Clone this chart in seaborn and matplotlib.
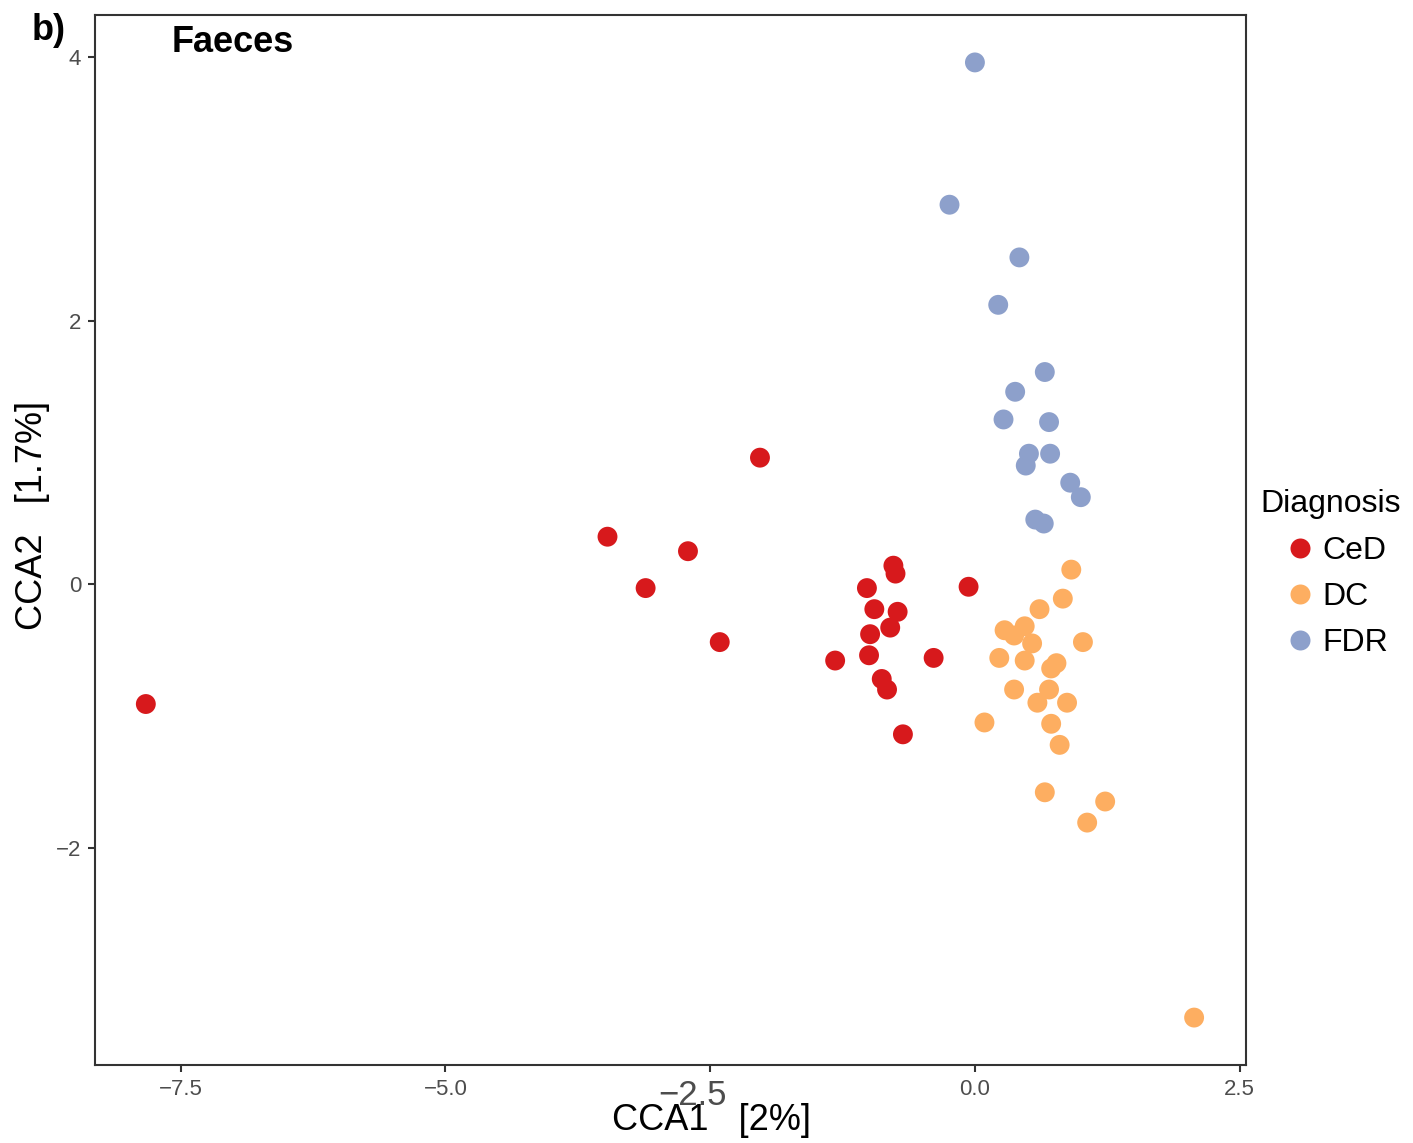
import numpy as np
import pandas as pd
import matplotlib
matplotlib.use("Agg")
import matplotlib.pyplot as plt
import matplotlib.transforms as mtransforms
from matplotlib.lines import Line2D
import seaborn as sns

# ---- data ----
ced_x = [-7.83, -3.47, -3.11, -2.71, -2.41, -2.03, -1.32, -0.77, -0.75, -1.02,
         -0.95, -0.73, -0.80, -0.99, -1.00, -0.39, -0.06, -0.88, -0.83, -0.68]
ced_y = [-0.91, 0.36, -0.03, 0.25, -0.44, 0.96, -0.58, 0.14, 0.08, -0.03,
         -0.19, -0.21, -0.33, -0.38, -0.54, -0.56, -0.02, -0.72, -0.80, -1.14]

dc_x = [0.91, 0.83, 0.61, 0.28, 0.47, 0.37, 0.54, 1.02, 0.23, 0.47, 0.77, 0.72,
        0.37, 0.70, 0.59, 0.87, 0.09, 0.72, 0.80, 0.66, 1.23, 1.06, 2.07]
dc_y = [0.11, -0.11, -0.19, -0.35, -0.32, -0.39, -0.45, -0.44, -0.56, -0.58, -0.60, -0.64,
        -0.80, -0.80, -0.90, -0.90, -1.05, -1.06, -1.22, -1.58, -1.65, -1.81, -3.29]

fdr_x = [0.00, -0.24, 0.42, 0.22, 0.66, 0.38, 0.27, 0.70, 0.51, 0.48, 0.71, 0.90,
         1.00, 0.57, 0.65]
fdr_y = [3.96, 2.88, 2.48, 2.12, 1.61, 1.46, 1.25, 1.23, 0.99, 0.90, 0.99, 0.77,
         0.66, 0.49, 0.46]

groups = ["CeD", "DC", "FDR"]
colors = {"CeD": "#D7191C", "DC": "#FDAE61", "FDR": "#8DA0CB"}

x_ticks = [-7.5, -5.0, -2.5, 0.0, 2.5]
x_tick_labels = ["\u22127.5", "\u22125.0", "\u22122.5", "0.0", "2.5"]
y_ticks = [-2, 0, 2, 4]
y_tick_labels = ["\u22122", "0", "2", "4"]

df = pd.DataFrame({
    "CCA1": ced_x + dc_x + fdr_x,
    "CCA2": ced_y + dc_y + fdr_y,
    "Diagnosis": ["CeD"] * len(ced_x) + ["DC"] * len(dc_x) + ["FDR"] * len(fdr_x),
})

sns.set_theme(style="white")
plt.rcParams["font.family"] = ["Liberation Sans", "DejaVu Sans"]
plt.rcParams["text.color"] = "black"
plt.rcParams["axes.labelcolor"] = "black"

fig = plt.figure(figsize=(14.13, 11.43), dpi=100)
ax = fig.add_axes([95 / 1413, 1 - 1065 / 1143, (1246 - 95) / 1413, (1065 - 15) / 1143])

sns.scatterplot(data=df, x="CCA1", y="CCA2", hue="Diagnosis", hue_order=groups,
                palette=colors, s=205, linewidth=0, alpha=1, ax=ax, legend=False, zorder=3)

ax.set_xlim(-8.31, 2.56)
ax.set_ylim(-3.65, 4.32)
ax.set_xticks(x_ticks)
ax.set_xticklabels(x_tick_labels)
ax.set_yticks(y_ticks)
ax.set_yticklabels(y_tick_labels)

frame_col = "#333333"
for sp in ax.spines.values():
    sp.set_visible(True)
    sp.set_color(frame_col)
    sp.set_linewidth(1.5)
ax.tick_params(axis="both", which="major", direction="out", length=5, width=1.5,
               color=frame_col, labelcolor="#4D4D4D", labelsize=16, pad=5,
               bottom=True, left=True)
ax.grid(False)

# odd oversized -2.5 tick label as in the reference
lbl = ax.get_xticklabels()[2]
lbl.set_fontsize(25)
lbl.set_transform(lbl.get_transform() + mtransforms.ScaledTranslation(-18 / 100, 0 / 100, fig.dpi_scale_trans))

ax.set_xlabel("CCA1   [2%]", fontsize=26, color="black")
ax.set_ylabel("CCA2   [1.7%]", fontsize=26, color="black")
ax.xaxis.set_label_coords((711 - 95) / 1151, (1065 - 1120) / 1050)
ax.xaxis.label.set_va("center")
ax.yaxis.set_label_coords((33 - 95) / 1151, (1065 - 515) / 1050)
ax.yaxis.label.set_va("center")

ax.text((172 - 95) / 1151, (1065 - 42) / 1050, "Faeces", transform=ax.transAxes,
        fontsize=26, fontweight="bold", ha="left", va="center", color="black")
fig.text(32 / 1413, 1 - 30 / 1143, "b)", fontsize=26, fontweight="bold",
         ha="left", va="center", color="black")

# legend: title as separate text, entries below
fig.text(1260 / 1413, 1 - 504 / 1143, "Diagnosis", fontsize=23, ha="left",
         va="center", color="black")
handles = [Line2D([0], [0], marker="o", linestyle="none", markersize=14.4,
                  markerfacecolor=colors[g], markeredgewidth=0) for g in groups]
leg = fig.legend(handles, groups, loc="center left",
                 bbox_to_anchor=(1283 / 1413, 1 - 597 / 1143), frameon=False,
                 fontsize=23, labelspacing=0.5, handletextpad=0.2,
                 handlelength=1.04, borderpad=0, borderaxespad=0)
for t in leg.get_texts():
    t.set_color("black")

fig.savefig("out.png", dpi=100)
